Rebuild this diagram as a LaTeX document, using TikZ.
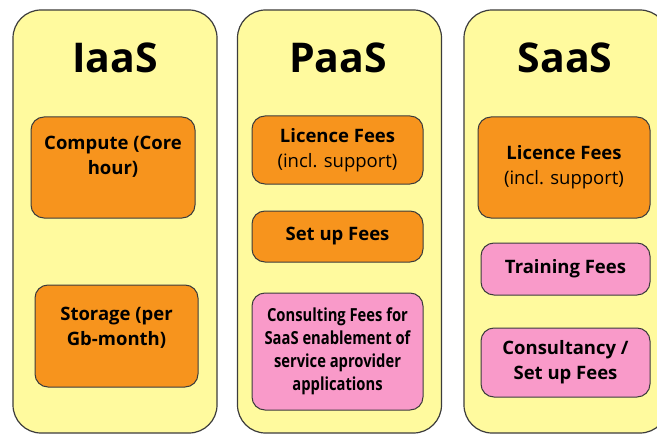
\documentclass[tikz,border=0pt]{standalone}
\usepackage{fontspec}
\setmainfont{Open Sans}
\newfontfamily\narrowfont[FakeStretch=0.82]{Open Sans}
\usepackage{tikz}
\usetikzlibrary{positioning}

\definecolor{padyellow}{HTML}{FFFA9E}
\definecolor{feeorange}{HTML}{F7941D}
\definecolor{feepink}{HTML}{F99AC9}
\definecolor{edgegray}{HTML}{3C3C3C}

\tikzset{
  tier/.style={draw=edgegray, line width=1.2pt, fill=padyellow, rounded corners=28pt,
    minimum width=204pt, minimum height=423pt, inner sep=0pt},
  heading/.style={font=\bfseries\fontsize{41}{41}\selectfont},
  fee/.style={draw=edgegray, line width=1pt, rounded corners=13pt, inner sep=0pt,
    align=center, font=\bfseries\fontsize{18.5}{25}\selectfont},
  basefee/.style={fee, fill=feeorange},
  addfee/.style={fee, fill=feepink},
  feetext/.style={align=center, inner sep=0pt, font=\bfseries\fontsize{18.5}{25}\selectfont}
}

\begin{document}
\begin{tikzpicture}[x=1pt, y=-1pt]
\useasboundingbox (0,0) rectangle (657,436);
\clip (0,0) rectangle (657,436);

% the three tiers
\node[tier] (iaas) at (115,221.5) {};
\node[tier] (paas) at (339.5,221.5) {};
\node[tier] (saas) at (566,221.5) {};
\node[heading, anchor=base] (iaast) at (115,73) {IaaS};
\node[heading, anchor=base] (paast) at (338,73) {PaaS};
\node[heading, anchor=base] (saast) at (565,73) {SaaS};

% IaaS
\node[basefee, minimum width=164pt, minimum height=101pt] (compute) at (113,167.5) {};
\node[feetext, anchor=base] (computet) at (113,175) {Compute (Core\\hour)};
\node[basefee, minimum width=163pt, minimum height=102pt] (storage) at (116.5,336) {};
\node[feetext, anchor=base] (storaget) at (116.5,345) {Storage (per\\Gb-month)};

% PaaS
\node[basefee, minimum width=171pt, minimum height=68pt] (plicence) at (337.5,150)
  {Licence Fees\\\mdseries (incl. support)};
\node[basefee, minimum width=171pt, minimum height=51pt] (setup) at (337.5,236.5) {Set up Fees};
\node[addfee, minimum width=171pt, minimum height=117pt,
  font=\narrowfont\bfseries\fontsize{18}{23}\selectfont] (consulting) at (337.5,351.5)
  {Consulting Fees for\\SaaS enablement of\\service aprovider\\applications};

% SaaS
\node[basefee, minimum width=172pt, minimum height=101pt] (slicence) at (564,167.5)
  {Licence Fees\\\mdseries (incl. support)};
\node[addfee, minimum width=169pt, minimum height=52pt] (training) at (565.5,269) {Training Fees};
\node[addfee, minimum width=169pt, minimum height=69pt] (consultancy) at (565.5,362.5)
  {Consultancy /\\Set up Fees};
\end{tikzpicture}
\end{document}
